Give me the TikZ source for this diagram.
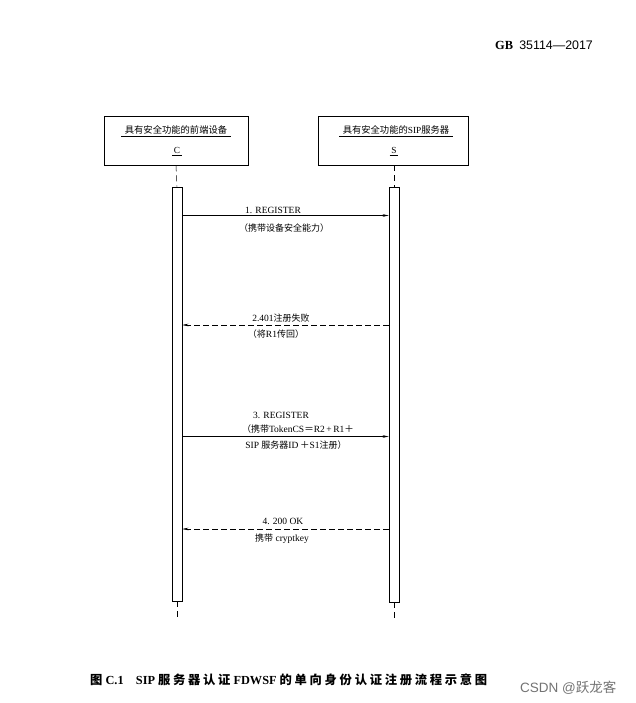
\documentclass[tikz,border=0pt]{standalone}
\usepackage{fontspec}
\setmainfont{Liberation Serif}
\newfontfamily\cjk{Noto Sans CJK SC}
\newfontfamily\wmfont{Liberation Sans}
\usetikzlibrary{arrows.meta}
\begin{document}
\begin{tikzpicture}[x=1pt,y=-1pt,
  objbox/.style={draw, line width=0.8pt, inner sep=0pt},
  actbar/.style={draw, fill=white, line width=0.7pt, minimum width=10pt, inner sep=0pt},
  life/.style={line width=0.5pt, dash pattern=on 6pt off 4pt},
  msg/.style={line width=0.5pt, -{Stealth[length=6pt,width=2.6pt]}},
  reply/.style={msg, dash pattern=on 6pt off 3pt},
  lbl/.style={font=\fontsize{9.5}{11}\selectfont, inner sep=0pt},
  ttl/.style={font=\fontsize{9.3}{10}\selectfont, inner sep=1.5pt}
]
\useasboundingbox (0,0) rectangle (635,703);

% header
\node[anchor=west, inner sep=0pt] (hdr) at (495,45) {\fontsize{12.4}{13}\selectfont\textbf{GB}\ \ {\wmfont 35114—2017}};

% object boxes
\node[objbox, minimum width=144pt, minimum height=49pt] (C) at (176,140.5) {};
\node[objbox, minimum width=150pt, minimum height=49pt] (S) at (393,140.5) {};
\node[ttl] (Ct) at (176,130) {\cjk 具有安全功能的前端设备};
\node[ttl] (Cn) at (177,150) {C};
\node[ttl] (St) at (396,130) {\cjk 具有安全功能的\rmfamily SIP\cjk 服务器};
\node[ttl] (Sn) at (394,150) {S};
\draw[line width=0.5pt] ([xshift=-2pt,yshift=-0.5pt]Ct.south west) -- ([xshift=2pt,yshift=-0.5pt]Ct.south east);
\draw[line width=0.5pt] ([xshift=-2pt,yshift=-0.5pt]St.south west) -- ([xshift=2pt,yshift=-0.5pt]St.south east);
\draw[line width=0.4pt] (Cn.south west) -- (Cn.south east);
\draw[line width=0.4pt] (Sn.south west) -- (Sn.south east);

% activation bars
\node[actbar, minimum height=414pt] (cbar) at (177,394) {};
\node[actbar, minimum height=415pt] (sbar) at (394,394.5) {};

% lifelines
\coordinate (cend) at (177,620);
\coordinate (send) at (394,620);
\draw[life] (C.south) -- (cbar.north);
\draw[life] (S.south -| sbar.north) -- (sbar.north);
\draw[life] (cbar.south) -- (cend);
\draw[life] (sbar.south) -- (send);

% message levels
\coordinate (y1) at (0,215.5);
\coordinate (y2) at (0,325);
\coordinate (y3) at (0,436.5);
\coordinate (y4) at (0,529);

\draw[msg] (cbar.east |- y1) -- (sbar.west |- y1);
\draw[reply] (sbar.west |- y2) -- (cbar.east |- y2);
\draw[msg] (cbar.east |- y3) -- (sbar.west |- y3);
\draw[reply] (sbar.west |- y4) -- (cbar.east |- y4);

% labels
\node[lbl] (l1a) at (273,210.5) {1. REGISTER};
\node[lbl] (l1b) at (284,228) {\cjk\fontsize{9}{11}\selectfont （携带设备安全能力）};
\node[lbl] (l2a) at (281,318) {2.401{\cjk\fontsize{9}{11}\selectfont 注册失败}};
\node[lbl] (l2b) at (276,334) {{\cjk\fontsize{9}{11}\selectfont （将}R1{\cjk\fontsize{9}{11}\selectfont 传回）}};
\node[lbl] (l3a) at (281,415) {3. REGISTER};
\node[lbl] (l3b) at (298,429) {{\cjk\fontsize{9}{11}\selectfont （携带}TokenCS{\cjk ＝}R2\,+\,R1{\cjk ＋}};
\node[lbl] (l3c) at (296,445.5) {SIP {\cjk\fontsize{9}{11}\selectfont 服务器}ID\,{\cjk ＋}S1{\cjk\fontsize{9}{11}\selectfont 注册）}};
\node[lbl] (l4a) at (283,521.5) {4. 200 OK};
\node[lbl] (l4b) at (282,538.5) {{\cjk\fontsize{9}{11}\selectfont 携带}\ cryptkey};

% caption
\node[anchor=west, inner sep=0pt, font=\fontsize{12.3}{13}\selectfont\bfseries] (cap) at (90,680)
  {{\cjk 图}\ C.1\quad SIP {\cjk\addfontfeature{LetterSpace=22} 服务器认证} FDWSF {\cjk\addfontfeature{LetterSpace=22} 的单向身份认证注册流程示意图}};

% watermark
\node[anchor=west, inner sep=0pt, text=black!55, font=\fontsize{13.5}{14}\selectfont\wmfont] (wm) at (520,688) {CSDN @{\cjk 跃龙客}};
\end{tikzpicture}
\end{document}
